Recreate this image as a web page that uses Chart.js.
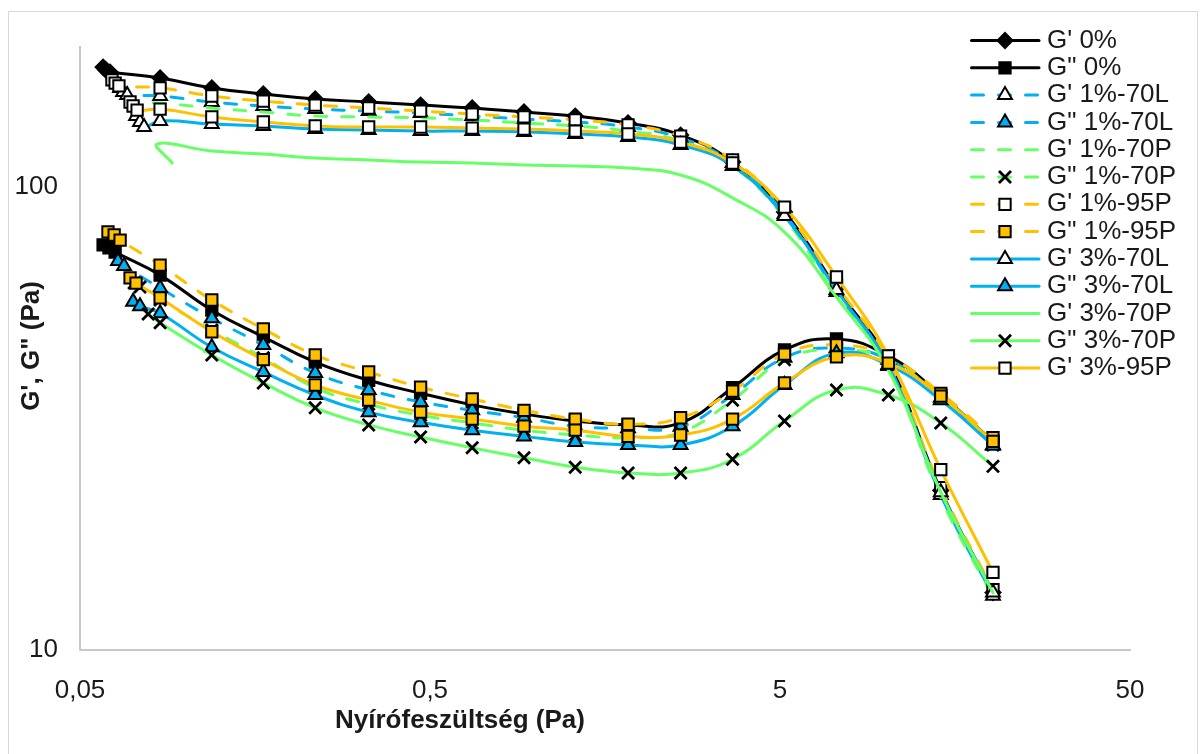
<!DOCTYPE html>
<html>
<head>
<meta charset="utf-8">
<script src="https://cdn.jsdelivr.net/npm/chart.js"></script>
<style>
  html, body { margin: 0; padding: 0; background: #fff; }
  #wrap { position: relative; width: 1201px; height: 754px; }
</style>
</head>
<body>
<div id="wrap"><canvas id="rheoChart" width="1201" height="754"></canvas></div>
<script>
// shear stress (Pa) of the regular sweep points
const stress = [0.0847, 0.119, 0.167, 0.235, 0.334, 0.470, 0.660, 0.928, 1.30, 1.84, 2.60, 3.66, 5.15, 7.25, 10.2, 14.4, 20.3];

const xTicks = [0.05, 0.5, 5, 50];
const yTicks = [10, 100];

// first readings of every sample (stress), then G' / G" values (Pa)
const gp0Start = [0.0582, 0.0593, 0.0609];
const gp0 = [181.0, 178.4, 176.6, 171.5, 163.2, 158.4, 154.5, 152.2, 149.9, 147.7, 144.8, 141.9, 137.1, 129.1, 112.9, 88.1, 60.4, 41.8, 22.1, 13.3];
const gpp0Start = [0.0582, 0.0605, 0.063];
const gpp0 = [74.8, 73.7, 72.2, 64.4, 54.1, 47.4, 41.8, 38.2, 35.8, 33.8, 32.3, 31.2, 30.6, 30.9, 36.8, 44.4, 46.9, 43.1, 35.5, 28.2];

const gp1LStart = [0.0651, 0.0664, 0.0682];
const gp1L = [163.2, 160.0, 157.6, 156.8, 152.2, 149.2, 146.9, 145.5, 144.0, 141.9, 139.8, 137.8, 134.4, 127.2, 112.4, 87.2, 59.2, 41.2, 21.6, 13.1];
const gpp1LStart = [0.0642, 0.0668];
const gpp1L = [69.1, 67.4, 60.4, 52.0, 45.5, 39.6, 36.4, 34.3, 32.9, 31.7, 30.4, 30.1, 30.3, 35.5, 42.7, 44.8, 42.3, 35.0, 27.7];

const gp1PStart = [0.0686, 0.0700, 0.0718];
const gp1P = [156.0, 153.7, 152.2, 151.4, 147.7, 144.8, 141.9, 141.3, 140.6, 139.2, 137.1, 135.1, 131.7, 125.4, 110.7, 85.5, 58.0, 40.6, 21.3, 13.0];
const gpp1PStart = [0.0714, 0.0742];
const gpp1P = [61.9, 60.7, 56.9, 49.0, 42.7, 36.8, 33.9, 32.1, 30.9, 29.8, 29.1, 28.7, 29.5, 34.6, 42.3, 44.4, 42.3, 35.0, 27.7];

const gp1P95Start = [0.0617, 0.063, 0.0646];
const gp1P95 = [169.8, 167.2, 164.8, 163.2, 156.8, 152.9, 149.9, 147.7, 145.5, 143.3, 141.3, 139.2, 135.8, 128.5, 114.1, 89.0, 61.3, 42.2, 22.4, 13.5];
const gpp1P95Start = [0.0601, 0.0626, 0.0651];
const gpp1P95 = [79.8, 78.6, 76.6, 67.7, 56.9, 49.3, 43.3, 39.8, 36.9, 34.8, 32.9, 31.5, 30.7, 31.7, 36.2, 43.5, 45.5, 42.9, 35.8, 28.7];

const gp3LStart = [0.0723, 0.0742, 0.0762];
const gp3L = [141.9, 137.8, 134.4, 138.5, 136.4, 135.1, 133.0, 132.4, 131.7, 131.7, 131.1, 129.8, 127.9, 122.9, 110.7, 86.4, 59.8, 41.0, 21.9, 13.3];
const gpp3LStart = [0.0709, 0.0742];
const gpp3L = [56.4, 55.2, 53.3, 45.0, 39.8, 35.5, 32.6, 31.0, 29.8, 28.9, 28.1, 27.7, 27.7, 30.4, 37.3, 43.7, 41.2, 34.6, 27.6];

// this sample skips the first regular stress step
const gp3PStart = [0.0917, 0.0831];
const gp3P = [112.4, 123.5, 119.3, 117.5, 115.2, 114.1, 112.9, 112.4, 111.3, 110.7, 109.6, 105.9, 94.5, 79.7, 57.7, 40.2, 21.9, 13.3];
const gpp3PStart = [0.0783];
const gpp3P = [53.1, 50.8, 43.3, 37.7, 33.3, 30.6, 28.8, 27.3, 26.0, 24.8, 24.1, 24.1, 25.8, 31.2, 36.4, 35.5, 30.9, 24.9];

const gp3P95Start = [0.0695, 0.0709, 0.0728];
const gp3P95 = [152.2, 149.2, 146.2, 146.9, 141.3, 137.8, 135.1, 134.4, 134.4, 133.7, 133.0, 131.7, 129.8, 124.7, 112.4, 90.3, 63.8, 43.1, 24.5, 14.7];
const gpp3P95Start = [0.0695, 0.0723];
const gpp3P95 = [63.5, 61.9, 57.5, 48.6, 42.3, 37.3, 34.6, 32.6, 31.5, 30.4, 29.8, 28.9, 29.1, 31.5, 37.7, 42.9, 41.6, 35.3, 28.2];

const BLUE = '#00b0f0';
const GREEN = '#66ff66';
const ORANGE = '#ffc000';
const DASH = [12, 15];
const FONT = '"Liberation Sans", Arial, sans-serif';
const FONT_SIZE = 26;

function points(startX, values, skip) {
  const xs = startX.concat(stress.slice(skip || 0));
  return xs.map((x, i) => ({ x: x, y: values[i] }));
}

function series(label, data, color, dash, marker, fill) {
  let radius = 0;
  if (marker === 'crossRot') radius = 8.5;
  else if (marker === 'rectRot') radius = 7.5;
  else if (marker) radius = 8;
  return {
    label: label,
    data: data,
    showLine: true,
    tension: 0.45,
    borderColor: color,
    borderWidth: 3,
    borderDash: dash,
    borderCapStyle: 'round',
    pointStyle: marker || 'circle',
    pointRadius: radius,
    pointBackgroundColor: fill || '#fff',
    pointBorderColor: '#000',
    pointBorderWidth: marker === 'crossRot' ? 2.8 : 2
  };
}

const datasets = [
  series("G' 0%", points(gp0Start, gp0), '#000', [], 'rectRot', '#000'),
  series('G" 0%', points(gpp0Start, gpp0), '#000', [], 'rect', '#000'),
  series("G' 1%-70L", points(gp1LStart, gp1L), BLUE, DASH, 'triangle', '#fff'),
  series('G" 1%-70L', points(gpp1LStart, gpp1L), BLUE, DASH, 'triangle', BLUE),
  series("G' 1%-70P", points(gp1PStart, gp1P), GREEN, DASH, null),
  series('G" 1%-70P', points(gpp1PStart, gpp1P), GREEN, DASH, 'crossRot'),
  series("G' 1%-95P", points(gp1P95Start, gp1P95), ORANGE, DASH, 'rect', '#fff'),
  series('G" 1%-95P', points(gpp1P95Start, gpp1P95), ORANGE, DASH, 'rect', ORANGE),
  series("G' 3%-70L", points(gp3LStart, gp3L), BLUE, [], 'triangle', '#fff'),
  series('G" 3%-70L', points(gpp3LStart, gpp3L), BLUE, [], 'triangle', BLUE),
  series("G' 3%-70P", points(gp3PStart, gp3P, 1), GREEN, [], null),
  series('G" 3%-70P', points(gpp3PStart, gpp3P), GREEN, [], 'crossRot'),
  series("G' 3%-95P", points(gp3P95Start, gp3P95), ORANGE, [], 'rect', '#fff'),
  series('G" 3%-95P', points(gpp3P95Start, gpp3P95), ORANGE, [], 'rect', ORANGE)
];
// later series sit on top; the last one has no legend entry
datasets.forEach((ds, i) => { ds.order = datasets.length - i; });
datasets[datasets.length - 1].noLegend = true;

function drawMarker(ctx, style, x, y, r, fill, stroke, lw) {
  ctx.save();
  ctx.setLineDash([]);
  ctx.fillStyle = fill;
  ctx.strokeStyle = stroke;
  ctx.lineWidth = lw;
  ctx.beginPath();
  if (style === 'rectRot') {
    ctx.moveTo(x, y - r); ctx.lineTo(x + r, y); ctx.lineTo(x, y + r); ctx.lineTo(x - r, y);
    ctx.closePath();
  } else if (style === 'rect') {
    const s = r * Math.SQRT1_2;
    ctx.rect(x - s, y - s, 2 * s, 2 * s);
  } else if (style === 'triangle') {
    for (let k = 0; k < 3; k++) {
      const a = k * 2 * Math.PI / 3;
      const px = x + Math.sin(a) * r, py = y - Math.cos(a) * r;
      if (k === 0) ctx.moveTo(px, py); else ctx.lineTo(px, py);
    }
    ctx.closePath();
  } else if (style === 'crossRot') {
    const s = r * Math.SQRT1_2;
    ctx.moveTo(x - s, y - s); ctx.lineTo(x + s, y + s);
    ctx.moveTo(x + s, y - s); ctx.lineTo(x - s, y + s);
    ctx.stroke();
    ctx.restore();
    return;
  }
  ctx.fill();
  ctx.stroke();
  ctx.restore();
}

// white page, chart frame, axis titles and the legend box
const decorations = {
  id: 'decorations',
  beforeDraw(chart) {
    const ctx = chart.ctx;
    ctx.save();
    ctx.fillStyle = '#fff';
    ctx.fillRect(0, 0, chart.width, chart.height);
    ctx.strokeStyle = '#d9d9d9';
    ctx.lineWidth = 1;
    ctx.strokeRect(8.5, 11.5, 1189, 760);
    ctx.restore();
  },
  afterDraw(chart) {
    const ctx = chart.ctx;
    ctx.save();
    ctx.fillStyle = '#1a1a1a';
    ctx.font = 'bold ' + FONT_SIZE + 'px ' + FONT;
    ctx.textAlign = 'center';
    ctx.textBaseline = 'middle';
    ctx.fillText('Nyírófeszültség (Pa)', 460, 721);
    ctx.translate(32, 346);
    ctx.rotate(-Math.PI / 2);
    ctx.fillText('G\', G" (Pa)', 0, 0);
    ctx.restore();

    ctx.save();
    ctx.font = FONT_SIZE + 'px ' + FONT;
    ctx.textBaseline = 'middle';
    ctx.textAlign = 'left';
    let row = 0;
    chart.data.datasets.forEach(ds => {
      if (ds.noLegend) return;
      const y = 40.5 + row * 27.3;
      row++;
      ctx.save();
      ctx.strokeStyle = ds.borderColor;
      ctx.lineWidth = ds.borderWidth;
      ctx.lineCap = 'round';
      ctx.setLineDash(ds.borderDash);
      ctx.beginPath();
      ctx.moveTo(971.5, y);
      ctx.lineTo(1039, y);
      ctx.stroke();
      ctx.restore();
      if (ds.pointRadius > 0) {
        drawMarker(ctx, ds.pointStyle, 1005, y, ds.pointRadius, ds.pointBackgroundColor, ds.pointBorderColor, ds.pointBorderWidth);
      }
      ctx.fillStyle = '#1a1a1a';
      ctx.fillText(ds.label, 1047, y);
    });
    ctx.restore();
  }
};

const ctx = document.getElementById('rheoChart').getContext('2d');
const rheoChart = new Chart(ctx, {
  type: 'scatter',
  data: { datasets: datasets },
  options: {
    responsive: false,
    animation: false,
    events: [],
    layout: { padding: { top: 47, right: 71, left: 0, bottom: 0 } },
    scales: {
      x: {
        type: 'logarithmic',
        min: 0.05,
        max: 50,
        afterBuildTicks: scale => { scale.ticks = xTicks.map(v => ({ value: v })); },
        afterFit: scale => { scale.height = 104; },
        grid: { display: false, drawTicks: false },
        border: { display: true, color: '#c8c8c8', width: 2 },
        ticks: {
          padding: 25,
          maxRotation: 0,
          color: '#1a1a1a',
          font: { family: FONT, size: FONT_SIZE },
          callback: v => String(v).replace('.', ',')
        }
      },
      y: {
        type: 'logarithmic',
        min: 10,
        max: 200,
        afterBuildTicks: scale => { scale.ticks = yTicks.map(v => ({ value: v })); },
        afterFit: scale => { scale.width = 80; },
        grid: { display: false, drawTicks: false },
        border: { display: true, color: '#c8c8c8', width: 2 },
        ticks: {
          padding: 22,
          color: '#1a1a1a',
          font: { family: FONT, size: FONT_SIZE },
          callback: v => String(v)
        }
      }
    },
    plugins: {
      legend: { display: false },
      tooltip: { enabled: false }
    }
  },
  plugins: [decorations]
});
</script>
</body>
</html>
